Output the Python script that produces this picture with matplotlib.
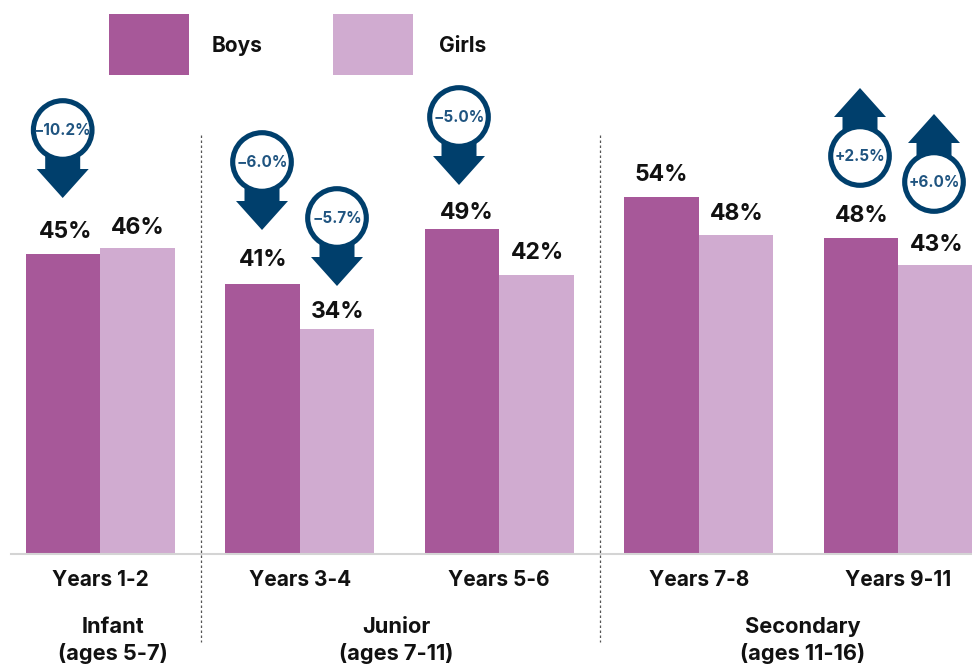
import numpy as np
import matplotlib.pyplot as plt
from matplotlib.patches import Circle, Polygon, Rectangle

plt.rcParams['font.family'] = ['Inter', 'DejaVu Sans']

years = ['Years 1-2', 'Years 3-4', 'Years 5-6', 'Years 7-8', 'Years 9-11']
boys = [45, 40.5, 48.7, 53.5, 47.4]
girls = [45.9, 33.7, 41.8, 47.8, 43.3]
boys_labels = ['45%', '41%', '49%', '54%', '48%']
girls_labels = ['46%', '34%', '42%', '48%', '43%']
stages = ['Infant\n(ages 5-7)', 'Junior\n(ages 7-11)', 'Secondary\n(ages 11-16)']
changes = ['\u221210.2%', '\u22126.0%', '\u22125.7%', '\u22125.0%', '+2.5%', '+6.0%']

BOYS = '#A75899'
GIRLS = '#D0ABD0'
NAVY = '#003F6C'
INK = '#111111'

fig = plt.figure(figsize=(9.72, 6.68), dpi=100)

# bars, axes sits on the pixel box of the reference
ax = fig.add_axes([11 / 972, (668 - 553.5) / 668, 961 / 972, 400 / 668])
x = np.arange(len(years))
w = 74.5 / 199.5
ax.bar(x - w / 2, boys, w, color=BOYS, label='Boys')
ax.bar(x + w / 2, girls, w, color=GIRLS, label='Girls')
ax.set_xlim(-89.3 / 199.5, 871.7 / 199.5)
ax.set_ylim(0, 400 / 6.66)
ax.set_yticks([])
ax.set_xticks(x)
ax.set_xticklabels(years, fontsize=15, fontweight='bold', color=INK)
ax.tick_params(axis='x', length=0, pad=12)
for s in ['top', 'left', 'right']:
    ax.spines[s].set_visible(False)
ax.spines['bottom'].set_color('#D4D4D4')
ax.spines['bottom'].set_linewidth(1.5)

# label offsets in points, the reference does not centre them all on the bars
boys_off = [(2, 8), (0.7, 9), (3.6, 3.6), (0, 8), (0.7, 7.6)]
girls_off = [(0, 6.5), (0.7, 4.3), (0.7, 8), (0.7, 7.3), (0.7, 6.5)]
for i in x:
    ax.annotate(boys_labels[i], (i - w / 2, boys[i]), xytext=boys_off[i],
                textcoords='offset points', ha='center', va='bottom',
                fontsize=16.5, fontweight='bold', color=INK)
    ax.annotate(girls_labels[i], (i + w / 2, girls[i]), xytext=girls_off[i],
                textcoords='offset points', ha='center', va='bottom',
                fontsize=16.5, fontweight='bold', color=INK)

# overlay in pixels for legend, callouts and the group text
ov = fig.add_axes([0, 0, 1, 1], facecolor='none')
ov.set_xlim(0, 972)
ov.set_ylim(668, 0)
ov.axis('off')

ov.add_patch(Rectangle((109, 14), 80, 61, color=BOYS, lw=0))
ov.add_patch(Rectangle((333, 14), 80, 61, color=GIRLS, lw=0))
ov.text(212, 46, 'Boys', fontsize=15, fontweight='bold', color=INK, va='center')
ov.text(439, 46, 'Girls', fontsize=15, fontweight='bold', color=INK, va='center')

for px in [201, 600]:
    ov.plot([px, px], [135, 642], color='#555555', lw=0.9, ls=(0, (2, 2)))

for cx, txt in zip([112.5, 396.5, 802.5], stages):
    ov.text(cx, 640.5, txt, ha='center', va='center', fontsize=15.7, fontweight='bold',
            color=INK, linespacing=1.3)


def callout(cx, cy, txt):
    # sign of the change decides which way the arrow goes
    d = -1 if txt.startswith('+') else 1
    ov.add_patch(Polygon([(cx - 17.5, cy + d * 20), (cx + 17.5, cy + d * 20), (cx + 17.5, cy + d * 39),
                          (cx + 26, cy + d * 39), (cx, cy + d * 68), (cx - 26, cy + d * 39),
                          (cx - 17.5, cy + d * 39)], color=NAVY, lw=0, zorder=3))
    ov.add_patch(Circle((cx, cy), 29.3, fc='white', ec=NAVY, lw=3.7, zorder=4))
    ov.text(cx, cy + 0.5, txt, ha='center', va='center', fontsize=11, fontweight='bold',
            color='#1F5480', zorder=5)


for (cx, cy), txt in zip([(62.7, 130), (262, 162), (337, 218), (459, 117), (860, 156), (934, 182)], changes):
    callout(cx, cy, txt)

fig.savefig('out.png', dpi=100)
